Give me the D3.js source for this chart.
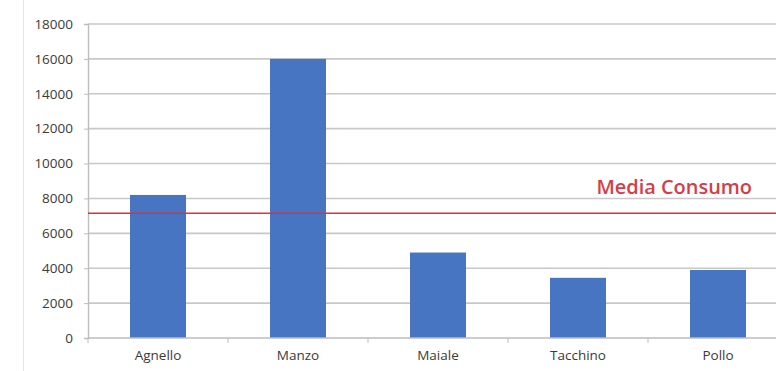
<!DOCTYPE html>
<html>
<head>
<meta charset="utf-8">
<script src="https://cdn.jsdelivr.net/npm/d3@7/dist/d3.min.js"></script>
<style>
  html, body { margin: 0; padding: 0; background: #fff; }
  svg { display: block; font-family: "Open Sans", "Liberation Sans", sans-serif; }
</style>
</head>
<body>
<svg id="chart" width="776" height="371"></svg>
<script>
// Consumo per tipo di carne
const categories = ["Agnello", "Manzo", "Maiale", "Tacchino", "Pollo"];
const consumo = [8200, 16000, 4900, 3450, 3900];
const mediaConsumo = 7150;
const yTicks = [0, 2000, 4000, 6000, 8000, 10000, 12000, 14000, 16000, 18000];
const mediaLabel = "Media Consumo";

const svg = d3.select("#chart");
const W = 776, H = 371;
const plot = { left: 88, right: 788, top: 24, bottom: 338 };

// chart-area frame edge on the left
svg.append("line")
  .attr("x1", 23.5).attr("x2", 23.5).attr("y1", 0).attr("y2", H)
  .attr("stroke", "#e4e4e4").attr("stroke-width", 1);

const x = d3.scaleBand()
  .domain(categories)
  .range([plot.left, plot.right])
  .paddingInner(0.6)
  .paddingOuter(0.3);

const y = d3.scaleLinear()
  .domain([0, 18000])
  .range([plot.bottom, plot.top]);

// horizontal gridlines
svg.append("g")
  .selectAll("line")
  .data(yTicks.filter(d => d > 0))
  .join("line")
  .attr("x1", plot.left).attr("x2", W)
  .attr("y1", d => y(d)).attr("y2", d => y(d))
  .attr("stroke", "#c8c8c8").attr("stroke-width", 1.6);

// y axis
const yAxis = svg.append("g")
  .attr("transform", `translate(${plot.left},0)`)
  .call(d3.axisLeft(y).tickValues(yTicks).tickSize(4).tickPadding(11).tickFormat(d3.format("d")));
yAxis.select(".domain").attr("stroke", "#bdbdbd").attr("stroke-width", 1.4);
yAxis.selectAll(".tick line").attr("stroke", "#bdbdbd");
yAxis.selectAll("text")
  .attr("fill", "#3a3a3a")
  .style("font-family", "'Open Sans', sans-serif")
  .style("font-size", "13.5px");

// bars
svg.append("g")
  .selectAll("rect")
  .data(categories.map((c, i) => ({ c, v: consumo[i] })))
  .join("rect")
  .attr("x", d => x(d.c))
  .attr("width", x.bandwidth())
  .attr("y", d => y(d.v))
  .attr("height", d => y(0) - y(d.v))
  .attr("fill", "#4775c2");

// x axis with ticks at category boundaries
const gap = (x.step() - x.bandwidth()) / 2;
const xAxis = svg.append("g").attr("transform", `translate(0,${plot.bottom})`);
xAxis.append("line")
  .attr("x1", plot.left).attr("x2", W)
  .attr("y1", 0).attr("y2", 0)
  .attr("stroke", "#bdbdbd").attr("stroke-width", 1.4);
xAxis.selectAll("line.b")
  .data(categories)
  .join("line")
  .attr("class", "b")
  .attr("x1", d => x(d) - gap).attr("x2", d => x(d) - gap)
  .attr("y1", 0).attr("y2", 5)
  .attr("stroke", "#bdbdbd");
xAxis.selectAll("text")
  .data(categories)
  .join("text")
  .attr("x", d => x(d) + x.bandwidth() / 2)
  .attr("y", 22)
  .attr("text-anchor", "middle")
  .attr("fill", "#3a3a3a")
  .style("font-size", "13.5px")
  .text(d => d);

// average line
svg.append("line")
  .attr("x1", plot.left).attr("x2", W)
  .attr("y1", y(mediaConsumo)).attr("y2", y(mediaConsumo))
  .attr("stroke", "#e0303a").attr("stroke-width", 1.6);

svg.append("text")
  .attr("transform", `translate(752,${y(mediaConsumo) - 19}) scale(1.05,1)`)
  .attr("text-anchor", "end")
  .attr("fill", "#d83c46")
  .style("font-size", "19px")
  .style("font-weight", "600")
  .text(mediaLabel);
</script>
</body>
</html>
